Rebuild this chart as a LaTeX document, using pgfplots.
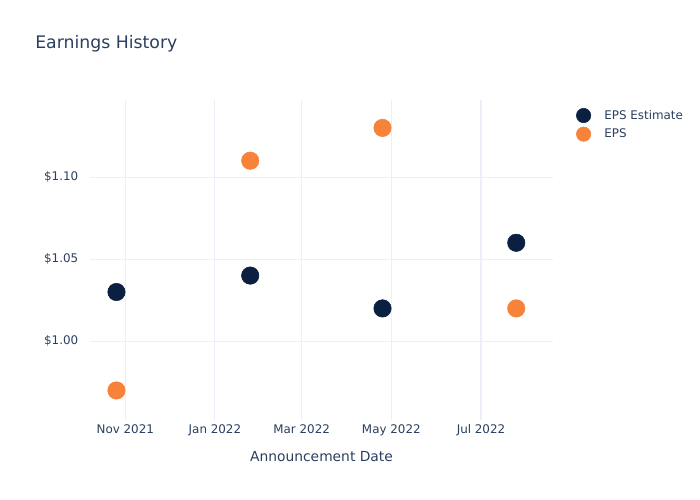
\documentclass[border=0pt]{standalone}
\usepackage{pgfplots}
\pgfplotsset{compat=1.18}
\usepackage{fontspec}
\setmainfont{DejaVu Sans}
\definecolor{txt}{HTML}{2A3F5F}
\definecolor{grd}{HTML}{EBF0F8}
\definecolor{navy}{HTML}{0B1F40}
\definecolor{orng}{HTML}{F7823A}
\begin{document}
\begin{tikzpicture}
\useasboundingbox (0,0) rectangle (7in,5in);
\node[anchor=west,text=txt,font=\fontsize{12.5}{14}\selectfont,inner sep=0pt] at (0.35in,4.56in) {Earnings History};
% x = days since 1 Nov 2021
\begin{axis}[
    at={(0.90in,0.80in)}, anchor=south west,
    width=4.63in, height=3.20in, scale only axis,
    xmin=-24, xmax=291, ymin=0.952, ymax=1.147,
    axis line style={draw=none},
    tick style={draw=none},
    grid=major, major grid style={grd, line width=0.75pt},
    xtick={0,61,120,181,242},
    xticklabels={Nov 2021,Jan 2022,Mar 2022,May 2022,Jul 2022},
    ytick={1.00,1.05,1.10},
    yticklabels={\$1.00,\$1.05,\$1.10},
    ticklabel style={text=txt, font=\fontsize{8.6}{10}\selectfont},
    yticklabel style={xshift=-5pt},
    xlabel={Announcement Date},
    xlabel style={text=txt, font=\fontsize{10}{12}\selectfont, yshift=-4pt},
    legend style={at={(1.041,0.987)}, anchor=north west, draw=none, fill=none,
        font=\fontsize{8.6}{10}\selectfont, text=txt, row sep=1.5pt},
    legend cell align=left,
    legend image code/.code={\draw[#1, mark size=5.2pt] plot coordinates {(0cm,0cm)};
        \path[draw=none] (-5.2pt,0pt) -- (13pt,0pt);},
    clip=false,
]
\addplot[only marks, mark=*, mark size=6.3pt, color=navy] coordinates {
    (-6,1.03) (85,1.04) (175,1.02) (266,1.06)
};
\addlegendentry{EPS Estimate}
\addplot[only marks, mark=*, mark size=6.3pt, color=orng] coordinates {
    (-6,0.97) (85,1.11) (175,1.13) (266,1.02)
};
\addlegendentry{EPS}
\end{axis}
\end{tikzpicture}
\end{document}
